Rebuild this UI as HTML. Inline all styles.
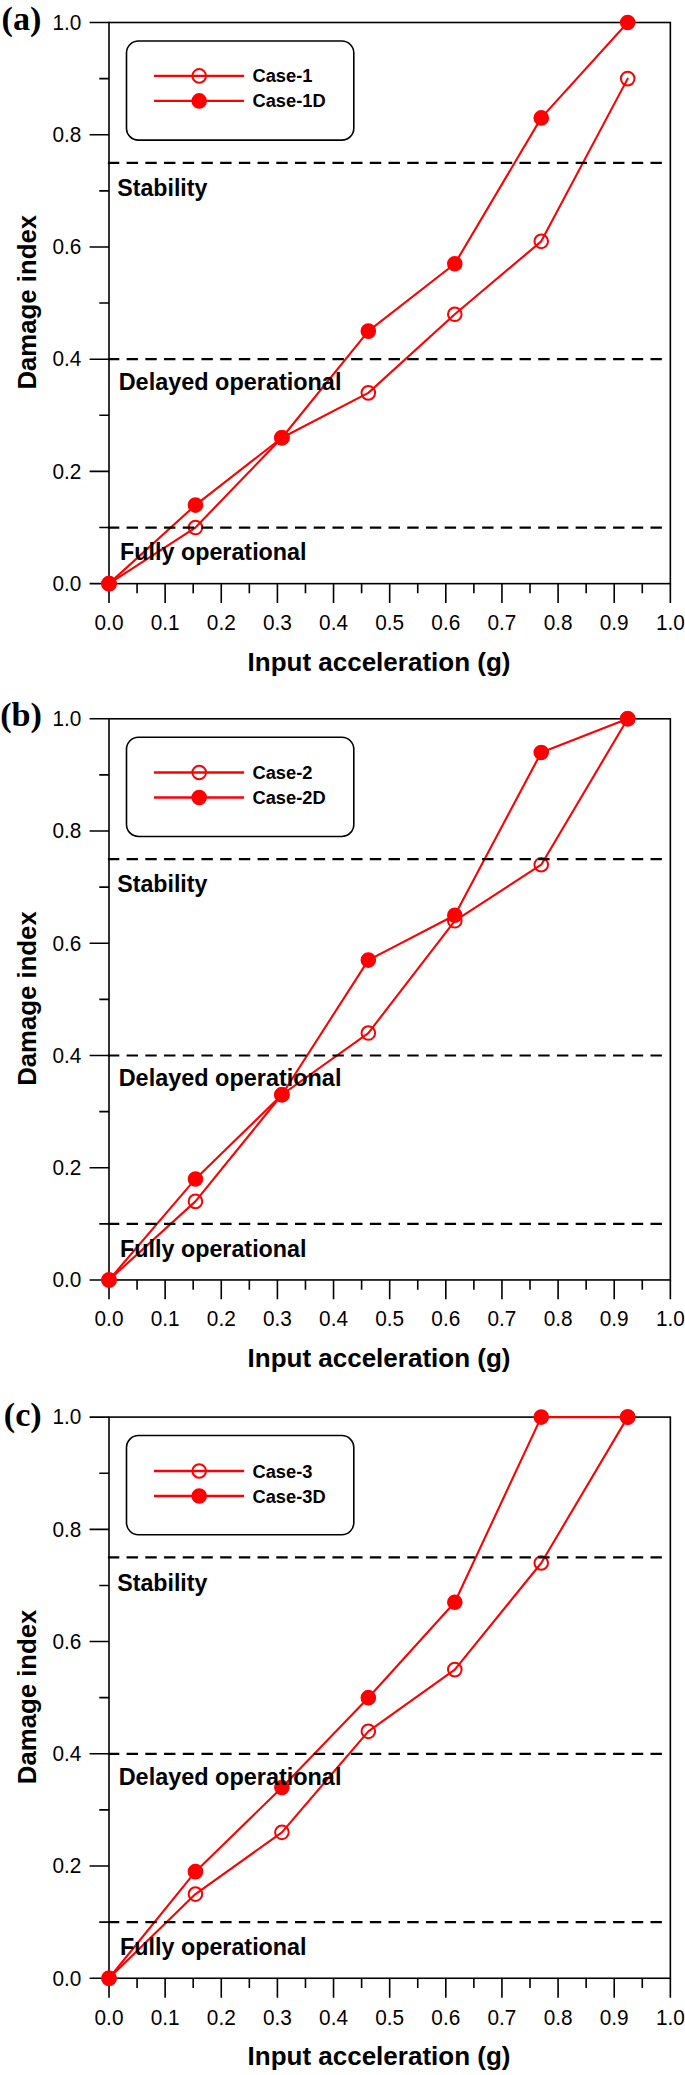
<!DOCTYPE html>
<html lang="en"><head><meta charset="utf-8"><title>Damage index vs input acceleration</title>
<style>
html,body{margin:0;padding:0;background:#fff}
svg{display:block}
.t{font-family:"Liberation Sans",sans-serif;fill:#000}
.b{font-weight:bold}
.s{font-family:"Liberation Serif",serif;font-weight:bold;fill:#000}
</style></head>
<body>
<svg width="685" height="2075" viewBox="0 0 685 2075">
<rect width="685" height="2075" fill="#fff"/>
<g>
<rect x="109" y="22.5" width="561.35" height="561.15" fill="none" stroke="#000" stroke-width="1.6"/>
<path d="M109 583.65v19.4M137.07 583.65v9.7M165.13 583.65v19.4M193.2 583.65v9.7M221.27 583.65v19.4M249.34 583.65v9.7M277.4 583.65v19.4M305.47 583.65v9.7M333.54 583.65v19.4M361.61 583.65v9.7M389.68 583.65v19.4M417.74 583.65v9.7M445.81 583.65v19.4M473.88 583.65v9.7M501.94 583.65v19.4M530.01 583.65v9.7M558.08 583.65v19.4M586.15 583.65v9.7M614.22 583.65v19.4M642.28 583.65v9.7M670.35 583.65v19.4M109 583.65h-19.4M109 527.53h-9.7M109 471.42h-19.4M109 415.3h-9.7M109 359.19h-19.4M109 303.07h-9.7M109 246.96h-19.4M109 190.85h-9.7M109 134.73h-19.4M109 78.62h-9.7M109 22.5h-19.4" stroke="#000" stroke-width="1.6" fill="none"/>
<text class="t" transform="translate(109 630.05) scale(1 1.03)" font-size="20.8" text-anchor="middle">0.0</text>
<text class="t" transform="translate(165.13 630.05) scale(1 1.03)" font-size="20.8" text-anchor="middle">0.1</text>
<text class="t" transform="translate(221.27 630.05) scale(1 1.03)" font-size="20.8" text-anchor="middle">0.2</text>
<text class="t" transform="translate(277.4 630.05) scale(1 1.03)" font-size="20.8" text-anchor="middle">0.3</text>
<text class="t" transform="translate(333.54 630.05) scale(1 1.03)" font-size="20.8" text-anchor="middle">0.4</text>
<text class="t" transform="translate(389.68 630.05) scale(1 1.03)" font-size="20.8" text-anchor="middle">0.5</text>
<text class="t" transform="translate(445.81 630.05) scale(1 1.03)" font-size="20.8" text-anchor="middle">0.6</text>
<text class="t" transform="translate(501.94 630.05) scale(1 1.03)" font-size="20.8" text-anchor="middle">0.7</text>
<text class="t" transform="translate(558.08 630.05) scale(1 1.03)" font-size="20.8" text-anchor="middle">0.8</text>
<text class="t" transform="translate(614.22 630.05) scale(1 1.03)" font-size="20.8" text-anchor="middle">0.9</text>
<text class="t" transform="translate(670.35 630.05) scale(1 1.03)" font-size="20.8" text-anchor="middle">1.0</text>
<text class="t" transform="translate(81.3 590.95) scale(1 1.03)" font-size="20.8" text-anchor="end">0.0</text>
<text class="t" transform="translate(81.3 478.72) scale(1 1.03)" font-size="20.8" text-anchor="end">0.2</text>
<text class="t" transform="translate(81.3 366.49) scale(1 1.03)" font-size="20.8" text-anchor="end">0.4</text>
<text class="t" transform="translate(81.3 254.26) scale(1 1.03)" font-size="20.8" text-anchor="end">0.6</text>
<text class="t" transform="translate(81.3 142.03) scale(1 1.03)" font-size="20.8" text-anchor="end">0.8</text>
<text class="t" transform="translate(81.3 29.8) scale(1 1.03)" font-size="20.8" text-anchor="end">1.0</text>
<text class="t b" x="379" y="670.65" font-size="26" text-anchor="middle">Input acceleration (g)</text>
<text class="t b" transform="translate(36 302.25) rotate(-90)" font-size="25.75" text-anchor="middle">Damage index</text>
<text class="s" x="1.6" y="30" font-size="34.2">(a)</text>
<rect x="126.5" y="40.95" width="227.3" height="99.2" rx="12" ry="12" fill="#fff" stroke="#000" stroke-width="1.6"/>
<path d="M154 75.9H244.1" stroke="#f00" stroke-width="2.3"/>
<circle cx="199.2" cy="75.9" r="6.8" fill="none" stroke="#f00" stroke-width="2.0"/>
<text class="t b" x="252.5" y="82.4" font-size="18.3">Case-1</text>
<path d="M154 100.9H244.1" stroke="#f00" stroke-width="2.3"/>
<circle cx="199.2" cy="100.9" r="6.8" fill="#f00" stroke="#f00" stroke-width="2.0"/>
<text class="t b" x="252.5" y="107.4" font-size="18.3">Case-1D</text>
<polyline points="109,583.65 195.45,527.53 281.9,437.75 368.34,392.86 454.79,314.3 541.24,241.35 627.69,78.62" fill="none" stroke="#f00" stroke-width="2.1" stroke-linejoin="round" stroke-linecap="round"/>
<circle cx="109" cy="583.65" r="6.8" fill="none" stroke="#f00" stroke-width="2.0"/>
<circle cx="195.45" cy="527.53" r="6.8" fill="none" stroke="#f00" stroke-width="2.0"/>
<circle cx="281.9" cy="437.75" r="6.8" fill="none" stroke="#f00" stroke-width="2.0"/>
<circle cx="368.34" cy="392.86" r="6.8" fill="none" stroke="#f00" stroke-width="2.0"/>
<circle cx="454.79" cy="314.3" r="6.8" fill="none" stroke="#f00" stroke-width="2.0"/>
<circle cx="541.24" cy="241.35" r="6.8" fill="none" stroke="#f00" stroke-width="2.0"/>
<circle cx="627.69" cy="78.62" r="6.8" fill="none" stroke="#f00" stroke-width="2.0"/>
<polyline points="109,583.65 195.45,505.09 281.9,437.75 368.34,331.13 454.79,263.79 541.24,117.9 627.69,22.5" fill="none" stroke="#f00" stroke-width="2.1" stroke-linejoin="round" stroke-linecap="round"/>
<circle cx="109" cy="583.65" r="6.8" fill="#f00" stroke="#f00" stroke-width="2.0"/>
<circle cx="195.45" cy="505.09" r="6.8" fill="#f00" stroke="#f00" stroke-width="2.0"/>
<circle cx="281.9" cy="437.75" r="6.8" fill="#f00" stroke="#f00" stroke-width="2.0"/>
<circle cx="368.34" cy="331.13" r="6.8" fill="#f00" stroke="#f00" stroke-width="2.0"/>
<circle cx="454.79" cy="263.79" r="6.8" fill="#f00" stroke="#f00" stroke-width="2.0"/>
<circle cx="541.24" cy="117.9" r="6.8" fill="#f00" stroke="#f00" stroke-width="2.0"/>
<circle cx="627.69" cy="22.5" r="6.8" fill="#f00" stroke="#f00" stroke-width="2.0"/>
<path d="M107.9 162.79H664" stroke="#000" stroke-width="2.2" stroke-dasharray="11.4 7.31" fill="none"/>
<path d="M107.9 359.19H664" stroke="#000" stroke-width="2.2" stroke-dasharray="11.4 7.31" fill="none"/>
<path d="M107.9 527.53H664" stroke="#000" stroke-width="2.2" stroke-dasharray="11.4 7.31" fill="none"/>
<text class="t b" x="117.2" y="196.19" font-size="23.2">Stability</text>
<text class="t b" x="118.7" y="390.19" font-size="23.45">Delayed operational</text>
<text class="t b" x="120.1" y="559.84" font-size="23.3">Fully operational</text>
</g>
<g>
<rect x="109" y="718.8" width="561.35" height="561.15" fill="none" stroke="#000" stroke-width="1.6"/>
<path d="M109 1279.95v19.4M137.07 1279.95v9.7M165.13 1279.95v19.4M193.2 1279.95v9.7M221.27 1279.95v19.4M249.34 1279.95v9.7M277.4 1279.95v19.4M305.47 1279.95v9.7M333.54 1279.95v19.4M361.61 1279.95v9.7M389.68 1279.95v19.4M417.74 1279.95v9.7M445.81 1279.95v19.4M473.88 1279.95v9.7M501.94 1279.95v19.4M530.01 1279.95v9.7M558.08 1279.95v19.4M586.15 1279.95v9.7M614.22 1279.95v19.4M642.28 1279.95v9.7M670.35 1279.95v19.4M109 1279.95h-19.4M109 1223.83h-9.7M109 1167.72h-19.4M109 1111.6h-9.7M109 1055.49h-19.4M109 999.37h-9.7M109 943.26h-19.4M109 887.14h-9.7M109 831.03h-19.4M109 774.91h-9.7M109 718.8h-19.4" stroke="#000" stroke-width="1.6" fill="none"/>
<text class="t" transform="translate(109 1326.35) scale(1 1.03)" font-size="20.8" text-anchor="middle">0.0</text>
<text class="t" transform="translate(165.13 1326.35) scale(1 1.03)" font-size="20.8" text-anchor="middle">0.1</text>
<text class="t" transform="translate(221.27 1326.35) scale(1 1.03)" font-size="20.8" text-anchor="middle">0.2</text>
<text class="t" transform="translate(277.4 1326.35) scale(1 1.03)" font-size="20.8" text-anchor="middle">0.3</text>
<text class="t" transform="translate(333.54 1326.35) scale(1 1.03)" font-size="20.8" text-anchor="middle">0.4</text>
<text class="t" transform="translate(389.68 1326.35) scale(1 1.03)" font-size="20.8" text-anchor="middle">0.5</text>
<text class="t" transform="translate(445.81 1326.35) scale(1 1.03)" font-size="20.8" text-anchor="middle">0.6</text>
<text class="t" transform="translate(501.94 1326.35) scale(1 1.03)" font-size="20.8" text-anchor="middle">0.7</text>
<text class="t" transform="translate(558.08 1326.35) scale(1 1.03)" font-size="20.8" text-anchor="middle">0.8</text>
<text class="t" transform="translate(614.22 1326.35) scale(1 1.03)" font-size="20.8" text-anchor="middle">0.9</text>
<text class="t" transform="translate(670.35 1326.35) scale(1 1.03)" font-size="20.8" text-anchor="middle">1.0</text>
<text class="t" transform="translate(81.3 1287.25) scale(1 1.03)" font-size="20.8" text-anchor="end">0.0</text>
<text class="t" transform="translate(81.3 1175.02) scale(1 1.03)" font-size="20.8" text-anchor="end">0.2</text>
<text class="t" transform="translate(81.3 1062.79) scale(1 1.03)" font-size="20.8" text-anchor="end">0.4</text>
<text class="t" transform="translate(81.3 950.56) scale(1 1.03)" font-size="20.8" text-anchor="end">0.6</text>
<text class="t" transform="translate(81.3 838.33) scale(1 1.03)" font-size="20.8" text-anchor="end">0.8</text>
<text class="t" transform="translate(81.3 726.1) scale(1 1.03)" font-size="20.8" text-anchor="end">1.0</text>
<text class="t b" x="379" y="1366.95" font-size="26" text-anchor="middle">Input acceleration (g)</text>
<text class="t b" transform="translate(36 998.55) rotate(-90)" font-size="25.75" text-anchor="middle">Damage index</text>
<text class="s" x="0.2" y="726.3" font-size="34.2">(b)</text>
<rect x="126.5" y="737.25" width="227.3" height="99.2" rx="12" ry="12" fill="#fff" stroke="#000" stroke-width="1.6"/>
<path d="M154 772.5H244.1" stroke="#f00" stroke-width="2.3"/>
<circle cx="199.2" cy="772.5" r="6.8" fill="none" stroke="#f00" stroke-width="2.0"/>
<text class="t b" x="252.5" y="779" font-size="18.3">Case-2</text>
<path d="M154 797.5H244.1" stroke="#f00" stroke-width="2.3"/>
<circle cx="199.2" cy="797.5" r="6.8" fill="#f00" stroke="#f00" stroke-width="2.0"/>
<text class="t b" x="252.5" y="804" font-size="18.3">Case-2D</text>
<polyline points="109,1279.95 195.45,1201.39 281.9,1094.77 368.34,1033.04 454.79,920.81 541.24,864.7 627.69,718.8" fill="none" stroke="#f00" stroke-width="2.1" stroke-linejoin="round" stroke-linecap="round"/>
<circle cx="109" cy="1279.95" r="6.8" fill="none" stroke="#f00" stroke-width="2.0"/>
<circle cx="195.45" cy="1201.39" r="6.8" fill="none" stroke="#f00" stroke-width="2.0"/>
<circle cx="281.9" cy="1094.77" r="6.8" fill="none" stroke="#f00" stroke-width="2.0"/>
<circle cx="368.34" cy="1033.04" r="6.8" fill="none" stroke="#f00" stroke-width="2.0"/>
<circle cx="454.79" cy="920.81" r="6.8" fill="none" stroke="#f00" stroke-width="2.0"/>
<circle cx="541.24" cy="864.7" r="6.8" fill="none" stroke="#f00" stroke-width="2.0"/>
<circle cx="627.69" cy="718.8" r="6.8" fill="none" stroke="#f00" stroke-width="2.0"/>
<polyline points="109,1279.95 195.45,1178.94 281.9,1094.77 368.34,960.09 454.79,915.2 541.24,752.47 627.69,718.8" fill="none" stroke="#f00" stroke-width="2.1" stroke-linejoin="round" stroke-linecap="round"/>
<circle cx="109" cy="1279.95" r="6.8" fill="#f00" stroke="#f00" stroke-width="2.0"/>
<circle cx="195.45" cy="1178.94" r="6.8" fill="#f00" stroke="#f00" stroke-width="2.0"/>
<circle cx="281.9" cy="1094.77" r="6.8" fill="#f00" stroke="#f00" stroke-width="2.0"/>
<circle cx="368.34" cy="960.09" r="6.8" fill="#f00" stroke="#f00" stroke-width="2.0"/>
<circle cx="454.79" cy="915.2" r="6.8" fill="#f00" stroke="#f00" stroke-width="2.0"/>
<circle cx="541.24" cy="752.47" r="6.8" fill="#f00" stroke="#f00" stroke-width="2.0"/>
<circle cx="627.69" cy="718.8" r="6.8" fill="#f00" stroke="#f00" stroke-width="2.0"/>
<path d="M107.9 859.09H664" stroke="#000" stroke-width="2.2" stroke-dasharray="11.4 7.31" fill="none"/>
<path d="M107.9 1055.49H664" stroke="#000" stroke-width="2.2" stroke-dasharray="11.4 7.31" fill="none"/>
<path d="M107.9 1223.83H664" stroke="#000" stroke-width="2.2" stroke-dasharray="11.4 7.31" fill="none"/>
<text class="t b" x="117.2" y="892.29" font-size="23.2">Stability</text>
<text class="t b" x="118.7" y="1086.19" font-size="23.45">Delayed operational</text>
<text class="t b" x="120.1" y="1256.63" font-size="23.3">Fully operational</text>
</g>
<g>
<rect x="109" y="1417.1" width="561.35" height="561.15" fill="none" stroke="#000" stroke-width="1.6"/>
<path d="M109 1978.25v19.4M137.07 1978.25v9.7M165.13 1978.25v19.4M193.2 1978.25v9.7M221.27 1978.25v19.4M249.34 1978.25v9.7M277.4 1978.25v19.4M305.47 1978.25v9.7M333.54 1978.25v19.4M361.61 1978.25v9.7M389.68 1978.25v19.4M417.74 1978.25v9.7M445.81 1978.25v19.4M473.88 1978.25v9.7M501.94 1978.25v19.4M530.01 1978.25v9.7M558.08 1978.25v19.4M586.15 1978.25v9.7M614.22 1978.25v19.4M642.28 1978.25v9.7M670.35 1978.25v19.4M109 1978.25h-19.4M109 1922.13h-9.7M109 1866.02h-19.4M109 1809.9h-9.7M109 1753.79h-19.4M109 1697.67h-9.7M109 1641.56h-19.4M109 1585.45h-9.7M109 1529.33h-19.4M109 1473.22h-9.7M109 1417.1h-19.4" stroke="#000" stroke-width="1.6" fill="none"/>
<text class="t" transform="translate(109 2024.65) scale(1 1.03)" font-size="20.8" text-anchor="middle">0.0</text>
<text class="t" transform="translate(165.13 2024.65) scale(1 1.03)" font-size="20.8" text-anchor="middle">0.1</text>
<text class="t" transform="translate(221.27 2024.65) scale(1 1.03)" font-size="20.8" text-anchor="middle">0.2</text>
<text class="t" transform="translate(277.4 2024.65) scale(1 1.03)" font-size="20.8" text-anchor="middle">0.3</text>
<text class="t" transform="translate(333.54 2024.65) scale(1 1.03)" font-size="20.8" text-anchor="middle">0.4</text>
<text class="t" transform="translate(389.68 2024.65) scale(1 1.03)" font-size="20.8" text-anchor="middle">0.5</text>
<text class="t" transform="translate(445.81 2024.65) scale(1 1.03)" font-size="20.8" text-anchor="middle">0.6</text>
<text class="t" transform="translate(501.94 2024.65) scale(1 1.03)" font-size="20.8" text-anchor="middle">0.7</text>
<text class="t" transform="translate(558.08 2024.65) scale(1 1.03)" font-size="20.8" text-anchor="middle">0.8</text>
<text class="t" transform="translate(614.22 2024.65) scale(1 1.03)" font-size="20.8" text-anchor="middle">0.9</text>
<text class="t" transform="translate(670.35 2024.65) scale(1 1.03)" font-size="20.8" text-anchor="middle">1.0</text>
<text class="t" transform="translate(81.3 1985.55) scale(1 1.03)" font-size="20.8" text-anchor="end">0.0</text>
<text class="t" transform="translate(81.3 1873.32) scale(1 1.03)" font-size="20.8" text-anchor="end">0.2</text>
<text class="t" transform="translate(81.3 1761.09) scale(1 1.03)" font-size="20.8" text-anchor="end">0.4</text>
<text class="t" transform="translate(81.3 1648.86) scale(1 1.03)" font-size="20.8" text-anchor="end">0.6</text>
<text class="t" transform="translate(81.3 1536.63) scale(1 1.03)" font-size="20.8" text-anchor="end">0.8</text>
<text class="t" transform="translate(81.3 1424.4) scale(1 1.03)" font-size="20.8" text-anchor="end">1.0</text>
<text class="t b" x="379" y="2065.25" font-size="26" text-anchor="middle">Input acceleration (g)</text>
<text class="t b" transform="translate(36 1696.85) rotate(-90)" font-size="25.75" text-anchor="middle">Damage index</text>
<text class="s" x="3.8" y="1426.1" font-size="34.2">(c)</text>
<rect x="126.5" y="1435.55" width="227.3" height="99.2" rx="12" ry="12" fill="#fff" stroke="#000" stroke-width="1.6"/>
<path d="M154 1471H244.1" stroke="#f00" stroke-width="2.3"/>
<circle cx="199.2" cy="1471" r="6.8" fill="none" stroke="#f00" stroke-width="2.0"/>
<text class="t b" x="252.5" y="1477.5" font-size="18.3">Case-3</text>
<path d="M154 1496H244.1" stroke="#f00" stroke-width="2.3"/>
<circle cx="199.2" cy="1496" r="6.8" fill="#f00" stroke="#f00" stroke-width="2.0"/>
<text class="t b" x="252.5" y="1502.5" font-size="18.3">Case-3D</text>
<polyline points="109,1978.25 195.45,1894.08 281.9,1832.35 368.34,1731.34 454.79,1669.62 541.24,1563 627.69,1417.1" fill="none" stroke="#f00" stroke-width="2.1" stroke-linejoin="round" stroke-linecap="round"/>
<circle cx="109" cy="1978.25" r="6.8" fill="none" stroke="#f00" stroke-width="2.0"/>
<circle cx="195.45" cy="1894.08" r="6.8" fill="none" stroke="#f00" stroke-width="2.0"/>
<circle cx="281.9" cy="1832.35" r="6.8" fill="none" stroke="#f00" stroke-width="2.0"/>
<circle cx="368.34" cy="1731.34" r="6.8" fill="none" stroke="#f00" stroke-width="2.0"/>
<circle cx="454.79" cy="1669.62" r="6.8" fill="none" stroke="#f00" stroke-width="2.0"/>
<circle cx="541.24" cy="1563" r="6.8" fill="none" stroke="#f00" stroke-width="2.0"/>
<circle cx="627.69" cy="1417.1" r="6.8" fill="none" stroke="#f00" stroke-width="2.0"/>
<polyline points="109,1978.25 195.45,1871.63 281.9,1787.46 368.34,1697.67 454.79,1602.28 541.24,1417.1 627.69,1417.1" fill="none" stroke="#f00" stroke-width="2.1" stroke-linejoin="round" stroke-linecap="round"/>
<circle cx="109" cy="1978.25" r="6.8" fill="#f00" stroke="#f00" stroke-width="2.0"/>
<circle cx="195.45" cy="1871.63" r="6.8" fill="#f00" stroke="#f00" stroke-width="2.0"/>
<circle cx="281.9" cy="1787.46" r="6.8" fill="#f00" stroke="#f00" stroke-width="2.0"/>
<circle cx="368.34" cy="1697.67" r="6.8" fill="#f00" stroke="#f00" stroke-width="2.0"/>
<circle cx="454.79" cy="1602.28" r="6.8" fill="#f00" stroke="#f00" stroke-width="2.0"/>
<circle cx="541.24" cy="1417.1" r="6.8" fill="#f00" stroke="#f00" stroke-width="2.0"/>
<circle cx="627.69" cy="1417.1" r="6.8" fill="#f00" stroke="#f00" stroke-width="2.0"/>
<path d="M107.9 1557.39H664" stroke="#000" stroke-width="2.2" stroke-dasharray="11.4 7.31" fill="none"/>
<path d="M107.9 1753.79H664" stroke="#000" stroke-width="2.2" stroke-dasharray="11.4 7.31" fill="none"/>
<path d="M107.9 1922.13H664" stroke="#000" stroke-width="2.2" stroke-dasharray="11.4 7.31" fill="none"/>
<text class="t b" x="117.2" y="1591.09" font-size="23.2">Stability</text>
<text class="t b" x="118.7" y="1784.99" font-size="23.45">Delayed operational</text>
<text class="t b" x="120.1" y="1955.24" font-size="23.3">Fully operational</text>
</g>
</svg>
</body></html>
